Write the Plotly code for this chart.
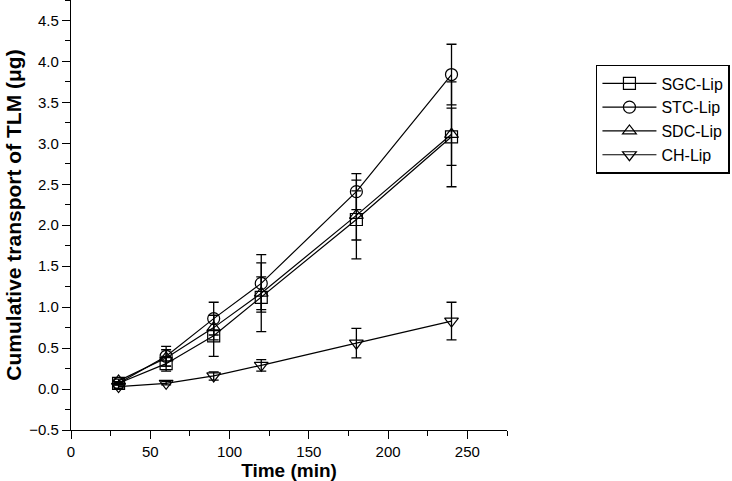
import plotly.graph_objects as go

time_min = [30, 60, 90, 120, 180, 240]

sgc_vals = [0.07, 0.31, 0.65, 1.12, 2.07, 3.08]
sgc_err = [0.02, 0.09, 0.25, 0.42, 0.48, 0.35]

stc_vals = [0.07, 0.40, 0.86, 1.29, 2.41, 3.84]
stc_err = [0.02, 0.12, 0.20, 0.35, 0.22, 0.37]

sdc_vals = [0.10, 0.38, 0.75, 1.17, 2.12, 3.11]
sdc_err = [0.02, 0.10, 0.15, 0.20, 0.30, 0.64]

ch_vals = [0.03, 0.07, 0.16, 0.29, 0.56, 0.83]
ch_err = [0.02, 0.02, 0.05, 0.07, 0.18, 0.23]

series = [
    ("SGC-Lip", sgc_vals, sgc_err, "square-open"),
    ("STC-Lip", stc_vals, stc_err, "circle-open"),
    ("SDC-Lip", sdc_vals, sdc_err, "triangle-up-open"),
    ("CH-Lip", ch_vals, ch_err, "triangle-down-open"),
]

fig = go.Figure()
for name, vals, err, sym in series:
    fig.add_trace(go.Scatter(
        x=time_min, y=vals, name=name, mode="lines+markers",
        line=dict(color="black", width=1.2),
        marker=dict(symbol=sym, size=12, color="black", line=dict(width=1.2, color="black")),
        error_y=dict(type="data", array=err, visible=True, color="black", thickness=1.3, width=5),
    ))

font_family = "Arial, Liberation Sans, sans-serif"
fig.update_layout(
    width=732, height=481,
    margin=dict(l=71, r=225, t=0, b=51),
    paper_bgcolor="white", plot_bgcolor="white",
    font=dict(family=font_family, color="black", size=14),
    showlegend=True,
    legend=dict(
        x=1.204, y=0.849, xanchor="left", yanchor="top",
        bordercolor="black", borderwidth=1.5,
        font=dict(size=16, family=font_family),
        tracegroupgap=0, itemwidth=54,
    ),
    xaxis=dict(
        range=[0, 275], tickmode="linear", tick0=0, dtick=50,
        showline=True, linecolor="black", linewidth=1.2,
        ticks="outside", ticklen=8, tickwidth=1.2, tickcolor="black",
        showgrid=False, zeroline=False, automargin=False,
        minor=dict(dtick=25, ticks="outside", ticklen=5, tickwidth=1.2, tickcolor="black", showgrid=False),
        title=dict(text="<b>Time (min)</b>", font=dict(size=19), standoff=2),
        tickfont=dict(size=15),
    ),
    yaxis=dict(
        range=[-0.5, 4.75], tickmode="linear", tick0=-0.5, dtick=0.5, tickformat=".1f",
        showline=True, linecolor="black", linewidth=1.2,
        ticks="outside", ticklen=8, tickwidth=1.2, tickcolor="black",
        showgrid=False, zeroline=False, automargin=False,
        minor=dict(dtick=0.25, ticks="outside", ticklen=5, tickwidth=1.2, tickcolor="black", showgrid=False),
        title=dict(text="<b>Cumulative transport of TLM (μg)</b>", font=dict(size=21), standoff=1),
        tickfont=dict(size=15),
    ),
)

fig.write_html("out.html", config={"displayModeBar": False},
               post_script="document.body.style.margin='0px';")
